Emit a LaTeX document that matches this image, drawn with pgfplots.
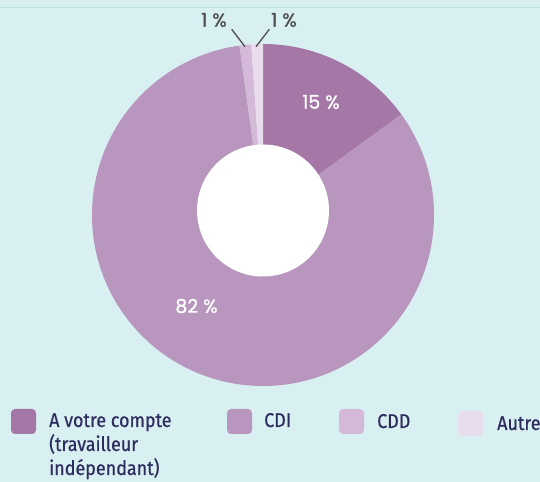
\documentclass[border=0pt]{standalone}
\usepackage{pgfplots}
\pgfplotsset{compat=1.18}
\usepackage{pgfplotstable}
\usepackage{fontspec}
\setmainfont{Fira Sans}
\newfontfamily\legfont[FakeStretch=0.9, FakeBold=0.6]{Fira Sans}
\newfontfamily\pctfont[FakeBold=1.0]{Poppins}
\definecolor{bg}{HTML}{D8F0F1}
\definecolor{topline}{HTML}{BCE2E6}
\definecolor{cA}{HTML}{A477A6}
\definecolor{cCDI}{HTML}{B896BE}
\definecolor{cCDD}{HTML}{D4BAD8}
\definecolor{cAutre}{HTML}{E9DCEC}
\definecolor{legtext}{HTML}{2E2C5E}
\definecolor{graytext}{HTML}{4D4D4D}

% share of each status, percent (clockwise from the top)
\pgfplotstableread{
label value
A 15.0
CDI 82.8
CDD 1.1
Autre 1.1
}\pietable
\pgfplotstablegetelem{0}{value}\of\pietable\pgfmathsetmacro\vA{\pgfplotsretval}
\pgfplotstablegetelem{1}{value}\of\pietable\pgfmathsetmacro\vB{\pgfplotsretval}
\pgfplotstablegetelem{2}{value}\of\pietable\pgfmathsetmacro\vC{\pgfplotsretval}
\pgfplotstablegetelem{3}{value}\of\pietable\pgfmathsetmacro\vD{\pgfplotsretval}
\pgfmathsetmacro\aZero{90}
\pgfmathsetmacro\aOne{\aZero-3.6*\vA}
\pgfmathsetmacro\aTwo{\aOne-3.6*\vB}
\pgfmathsetmacro\aThree{\aTwo-3.6*\vC}
\pgfmathsetmacro\aFour{\aThree-3.6*\vD}

\begin{document}
\begin{tikzpicture}
\begin{axis}[
  x=1bp, y=1bp, xmin=0, xmax=540, ymin=0, ymax=482,
  hide axis, clip=false, scale only axis,
]
\fill[bg] (axis cs:0,0) rectangle (axis cs:540,482);
\coordinate (BL) at (axis cs:0,0);
\coordinate (TR) at (axis cs:540,482);
\draw[topline, line width=1.5bp] (axis cs:0,474.5) -- (axis cs:540,474.5);
% donut
\fill[cA] (axis cs:263,267) -- ++(\aZero:171bp) arc[start angle=\aZero, end angle=\aOne, radius=171bp] -- cycle;
\fill[cCDI] (axis cs:263,267) -- ++(\aOne:171bp) arc[start angle=\aOne, end angle=\aTwo, radius=171bp] -- cycle;
\fill[cCDD] (axis cs:263,267) -- ++(\aTwo:171bp) arc[start angle=\aTwo, end angle=\aThree, radius=171bp] -- cycle;
\fill[cAutre] (axis cs:263,267) -- ++(\aThree:171bp) arc[start angle=\aThree, end angle=\aFour, radius=171bp] -- cycle;
\fill[white] (axis cs:263,271.5) circle[radius=66bp];
% labels
\node[white, font=\pctfont\fontsize{19}{20}\selectfont] at (axis cs:321,380) {15 \%};
\node[white, font=\pctfont\fontsize{19}{20}\selectfont] at (axis cs:196.5,176) {82 \%};
\node[graytext, font=\pctfont\fontsize{19}{20}\selectfont] at (axis cs:214,462) {1 \%};
\node[graytext, font=\pctfont\fontsize{19}{20}\selectfont] at (axis cs:284,462) {1 \%};
\draw[graytext, line width=1.3bp] (axis cs:231.7,452.7) -- (axis cs:245,435.3);
\draw[graytext, line width=1.3bp] (axis cs:269.3,452.7) -- (axis cs:256,435.3);
% legend
\fill[cA, rounded corners=4bp] (axis cs:11,48) rectangle (axis cs:36,73);
\fill[cCDI, rounded corners=4bp] (axis cs:227,48) rectangle (axis cs:252,73);
\fill[cCDD, rounded corners=4bp] (axis cs:339,48) rectangle (axis cs:364,73);
\fill[cAutre, rounded corners=4bp] (axis cs:458,46) rectangle (axis cs:483,71);
\node[legtext, anchor=base west, inner sep=0pt, font=\legfont\fontsize{20}{24}\selectfont] at (axis cs:49,55) {A votre compte};
\node[legtext, anchor=base west, inner sep=0pt, font=\legfont\fontsize{20}{24}\selectfont] at (axis cs:49,31) {(travailleur};
\node[legtext, anchor=base west, inner sep=0pt, font=\legfont\fontsize{20}{24}\selectfont] at (axis cs:49,7) {indépendant)};
\node[legtext, anchor=base west, inner sep=0pt, font=\legfont\fontsize{20}{24}\selectfont] at (axis cs:264,55) {CDI};
\node[legtext, anchor=base west, inner sep=0pt, font=\legfont\fontsize{20}{24}\selectfont] at (axis cs:377,54) {CDD};
\node[legtext, anchor=base west, inner sep=0pt, font=\legfont\fontsize{20}{24}\selectfont] at (axis cs:497,52) {Autre};
\end{axis}
\pgfresetboundingbox
\path[use as bounding box] (BL) rectangle (TR);
\end{tikzpicture}
\end{document}
